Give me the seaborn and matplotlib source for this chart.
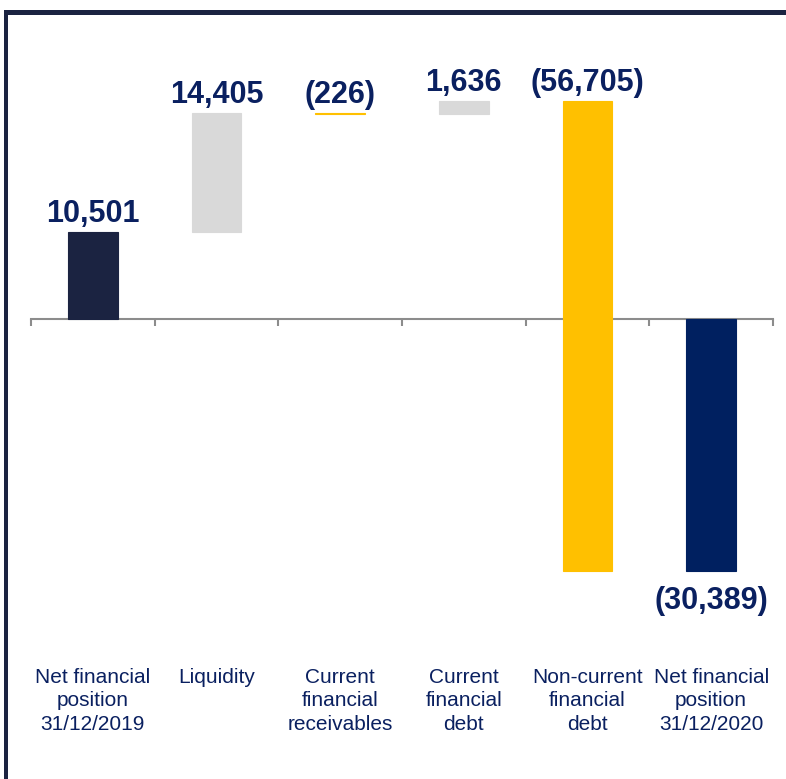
import matplotlib
matplotlib.use("Agg")
import matplotlib.pyplot as plt
import matplotlib.patches as mpatches
import seaborn as sns
import numpy as np
import pandas as pd

categories = ["Net financial\nposition\n31/12/2019", "Liquidity", "Current\nfinancial\nreceivables",
              "Current\nfinancial\ndebt", "Non-current\nfinancial\ndebt", "Net financial\nposition\n31/12/2020"]
changes = [10501, 14405, -226, 1636, -56705, -30389]
value_labels = ["10,501", "14,405", "(226)", "1,636", "(56,705)", "(30,389)"]
bar_colors = ["#1b2341", "#d9d9d9", "#ffc000", "#d9d9d9", "#ffc000", "#002060"]
is_total = [True, False, False, False, False, True]

# waterfall bottoms/heights
bottoms, heights = [], []
running = 0
for c, tot in zip(changes, is_total):
    if tot:
        bottoms.append(0)
        heights.append(c)
        running = c
    else:
        bottoms.append(running)
        heights.append(c)
        running += c

df = pd.DataFrame({"cat": categories, "height": heights})

sns.set_theme(style="white")
plt.rcParams["font.family"] = ["Liberation Sans", "DejaVu Sans"]

fig = plt.figure(figsize=(7.86, 7.79), dpi=100)
W, H = 786, 779
ax = fig.add_axes([31 / W, 1 - 640 / H, (773 - 31) / W, (640 - 60) / H])

sns.barplot(data=df, x="cat", y="height", color="#d9d9d9", order=categories,
            width=0.4, bottom=np.array(bottoms), ax=ax, saturation=1, linewidth=0,
            errorbar=None)
for patch, col in zip(ax.patches, bar_colors):
    patch.set_facecolor(col)
    patch.set_edgecolor(col)
    patch.set_linewidth(0.8)
    patch.set_zorder(3)

ax.set_xlim(-0.5, 5.5)
ax.set_ylim(-38700, 31240)
for s in ["top", "left", "right"]:
    ax.spines[s].set_visible(False)
ax.spines["bottom"].set_position(("data", 0))
ax.spines["bottom"].set_color("#8c8c8c")
ax.spines["bottom"].set_linewidth(1.5)
ax.spines["bottom"].set_zorder(2)
ax.set_xticks(np.arange(-0.5, 6.0, 1.0))
ax.set_xticklabels([])
ax.tick_params(axis="x", direction="out", length=5, width=1.5, color="#8c8c8c", bottom=True)
ax.set_yticks([])
ax.set_xlabel("")
ax.set_ylabel("")

navy = "#0a2060"
for i, (b, h, lab) in enumerate(zip(bottoms, heights, value_labels)):
    top = max(b, b + h)
    low = min(b, b + h)
    if i == 5:
        ax.annotate(lab, xy=(i, low), xytext=(0, -11), textcoords="offset points",
                    ha="center", va="top", fontsize=22, fontweight="bold", color=navy)
    else:
        ax.annotate(lab, xy=(i, top), xytext=(0, 2), textcoords="offset points",
                    ha="center", va="bottom", fontsize=22, fontweight="bold", color=navy)
    ax.annotate(categories[i], xy=(i, 0), xycoords=("data", "axes fraction"),
                xytext=(0, -20), textcoords="offset points", ha="center", va="top",
                fontsize=15, color=navy, linespacing=1.3)

# frame
fig.add_artist(mpatches.Rectangle((4 / W, 1 - 15 / H), (W - 4) / W, 5 / H,
                                  transform=fig.transFigure, color="#1b2341", lw=0))
fig.add_artist(mpatches.Rectangle((4 / W, 0), 4 / W, 1 - 10 / H,
                                  transform=fig.transFigure, color="#1b2341", lw=0))

fig.savefig("out.png", dpi=100)
